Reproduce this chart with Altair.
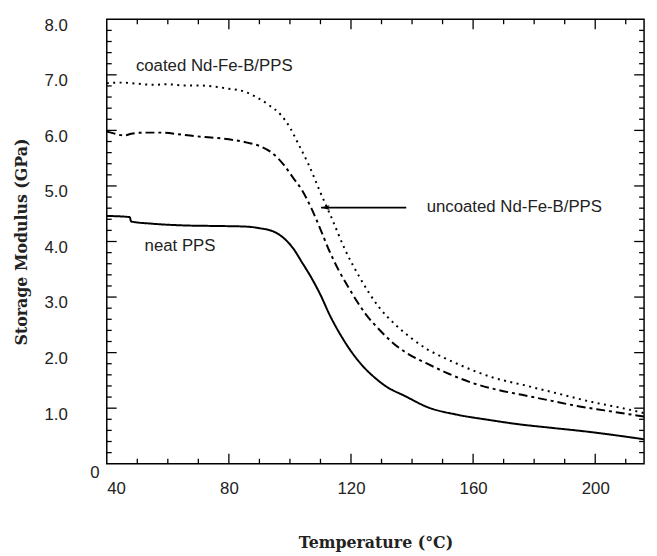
import altair as alt
import pandas as pd

# ---- data ----
neat_x = [40, 47.5, 48, 55, 65, 75, 85, 90, 95, 98, 101, 104, 107, 110, 113, 117, 121, 124, 128, 131, 138, 145, 155, 165, 175, 185, 197, 207, 216]
neat_y = [4.46, 4.44, 4.36, 4.32, 4.29, 4.28, 4.27, 4.24, 4.17, 4.06, 3.88, 3.62, 3.35, 3.04, 2.68, 2.28, 1.95, 1.75, 1.54, 1.41, 1.21, 1.02, 0.88, 0.79, 0.71, 0.65, 0.58, 0.51, 0.44]

unc_x = [40, 42, 44, 46, 48, 52, 58, 65, 72, 80, 86, 90, 94, 98, 101, 104, 107, 110, 113, 116, 119, 122, 125, 129, 133, 138, 145, 152, 160, 168, 176, 185, 194, 203, 210, 216]
unc_y = [5.98, 5.95, 5.92, 5.91, 5.94, 5.96, 5.96, 5.92, 5.88, 5.84, 5.78, 5.72, 5.60, 5.38, 5.15, 4.92, 4.60, 4.22, 3.82, 3.48, 3.19, 2.92, 2.68, 2.43, 2.21, 2.00, 1.80, 1.62, 1.45, 1.33, 1.24, 1.14, 1.04, 0.96, 0.90, 0.85]

coat_x = [40, 45, 50, 55, 60, 65, 70, 75, 80, 85, 89, 93, 97, 100, 103, 106, 110, 114, 118, 123, 129, 135, 140, 145, 150, 156, 166, 177, 188, 199, 209, 216]
coat_y = [6.85, 6.86, 6.84, 6.82, 6.83, 6.81, 6.81, 6.79, 6.75, 6.70, 6.60, 6.46, 6.28, 6.05, 5.73, 5.40, 4.88, 4.38, 3.86, 3.34, 2.83, 2.48, 2.25, 2.06, 1.92, 1.77, 1.56, 1.41, 1.26, 1.11, 1.00, 0.91]

series_names = ["neat PPS", "uncoated Nd-Fe-B/PPS", "coated Nd-Fe-B/PPS"]

x_labels = [40, 80, 120, 160, 200]
x_major_ticks = [80, 120, 160, 200]
x_minor_ticks = [50, 60, 70, 90, 100, 110, 130, 140, 150, 170, 180, 190, 210]
y_labels = [1, 2, 3, 4, 5, 6, 7, 8]
y_major_ticks = [1, 2, 3, 4, 5, 6, 7]
y_minor_ticks = [round(i * 0.2, 1) for i in range(1, 40) if i % 5 != 0]

X_DOMAIN = [40, 216]
Y_DOMAIN = [0, 8]

# annotations
ann_text = ["coated Nd-Fe-B/PPS", "neat PPS", "uncoated Nd-Fe-B/PPS"]
ann_x = [75.2, 64.0, 173.5]
ann_y = [7.16, 3.91, 4.62]
arrow_tail_x = 138.1
arrow_tip_x = 110.2
arrow_head_x = 111.6
arrow_y = 4.61

W, H = 544, 450
PX_Y = H / (Y_DOMAIN[1] - Y_DOMAIN[0])   # pixels per y unit

# ---- build tables ----
rows = []
for name, xs_, ys_ in zip(series_names, [neat_x, unc_x, coat_x], [neat_y, unc_y, coat_y]):
    for a, b in zip(xs_, ys_):
        rows.append({"series": name, "x": a, "y": b})
df = pd.DataFrame(rows)
ann_df = pd.DataFrame({"text": ann_text, "x": ann_x, "y": ann_y})
arrow_df = pd.DataFrame({"x": [arrow_tail_x], "x2": [arrow_tip_x], "y": [arrow_y], "xh": [arrow_head_x]})
zero_df = pd.DataFrame({"x": [X_DOMAIN[0]], "y": [Y_DOMAIN[0]], "t": ["0"]})

xs = alt.Scale(domain=X_DOMAIN, nice=False, zero=False)
ys = alt.Scale(domain=Y_DOMAIN, nice=False, zero=False)

LABEL_FONT = "Liberation Sans"
TITLE_FONT = "DejaVu Serif"

lines = alt.Chart(df).mark_line(interpolate="monotone", color="black").encode(
    x=alt.X("x:Q", scale=xs, axis=alt.Axis(
        values=x_labels, ticks=False, tickSize=0, domain=False, grid=False,
        labelFont=LABEL_FONT, labelFontSize=17, labelColor="#222", labelPadding=17,
        title="Temperature (°C)", titleFont=TITLE_FONT, titleFontSize=16, titleFontWeight="bold",
        titleColor="#222", titleX=272, titleY=80, titleBaseline="middle", titleAlign="center")),
    y=alt.Y("y:Q", scale=ys, axis=alt.Axis(
        values=y_labels, ticks=False, tickSize=0, domain=False, grid=False,
        labelFont=LABEL_FONT, labelFontSize=17, labelColor="#222", labelPadding=40, labelOffset=6,
        title="Storage Modulus (GPa)", titleFont=TITLE_FONT, titleFontSize=16, titleFontWeight="bold",
        titleColor="#222", titleX=-86, titleY=225, titleAngle=270, titleBaseline="middle", titleAlign="center")),
    strokeDash=alt.StrokeDash("series:N", scale=alt.Scale(domain=series_names, range=[[1, 0], [9, 4, 3, 4], [2, 4.5]]), legend=None),
    detail="series:N",
)

# tick glyphs: short strokes drawn from a point (path length = sqrt(size)/2 px)
PATH_UP = "M 0 0 L 0 -1"
PATH_RIGHT = "M 0 0 L 1 0"
PATH_LEFT = "M 0 0 L -1 0"


def x_ticks(values, length, top):
    # bottom: stroke upward from the frame; top: stroke upward from the inner end to the frame
    edge = (Y_DOMAIN[1] - length / PX_Y) if top else Y_DOMAIN[0]
    tdf = pd.DataFrame({"v": values, "edge": edge})
    return alt.Chart(tdf).mark_point(
        shape=PATH_UP, size=(2 * length) ** 2, filled=False,
        stroke="black", strokeWidth=1.3, opacity=1).encode(
        x=alt.X("v:Q", scale=xs),
        y=alt.Y("edge:Q", scale=ys),
    )


def y_ticks(values, length, right):
    tdf = pd.DataFrame({"v": values, "edge": X_DOMAIN[1] if right else X_DOMAIN[0]})
    return alt.Chart(tdf).mark_point(
        shape=PATH_LEFT if right else PATH_RIGHT, size=(2 * length) ** 2, filled=False,
        stroke="black", strokeWidth=1.3, opacity=1).encode(
        y=alt.Y("v:Q", scale=ys),
        x=alt.X("edge:Q", scale=xs),
    )


ticks = [
    x_ticks(x_minor_ticks, 5, False), x_ticks(x_major_ticks, 10, False),
    y_ticks(y_minor_ticks, 5, False), y_ticks(y_major_ticks, 10, False),
    y_ticks(y_minor_ticks, 5, True), y_ticks(y_major_ticks, 10, True),
    x_ticks(x_minor_ticks, 5, True), x_ticks(x_major_ticks, 10, True),
]

ann = alt.Chart(ann_df).mark_text(font=LABEL_FONT, fontSize=17, color="#222", align="center", baseline="middle").encode(
    x=alt.X("x:Q", scale=xs), y=alt.Y("y:Q", scale=ys), text="text:N")

arrow_line = alt.Chart(arrow_df).mark_rule(color="black", strokeWidth=1.6).encode(
    x=alt.X("x:Q", scale=xs), x2="x2:Q", y=alt.Y("y:Q", scale=ys))
arrow_head = alt.Chart(arrow_df).mark_point(
    shape="M -1 0 L 1 -0.55 L 0.55 0 L 1 0.55 Z", size=80, filled=True, color="black", opacity=1).encode(
    x=alt.X("xh:Q", scale=xs), y=alt.Y("y:Q", scale=ys))

zero_lbl = alt.Chart(zero_df).mark_text(font=LABEL_FONT, fontSize=17, color="#222", dx=-12, dy=9).encode(
    x=alt.X("x:Q", scale=xs), y=alt.Y("y:Q", scale=ys), text="t:N")

chart = alt.layer(lines, *ticks, ann, arrow_line, arrow_head, zero_lbl).properties(
    width=W, height=H,
    autosize=alt.AutoSizeParams(type="none"),
    padding={"left": 100, "top": 8, "right": 5, "bottom": 90},
).configure_view(stroke="black", strokeWidth=1.5)

chart.save("out.html", embed_options={"renderer": "svg", "actions": False})
